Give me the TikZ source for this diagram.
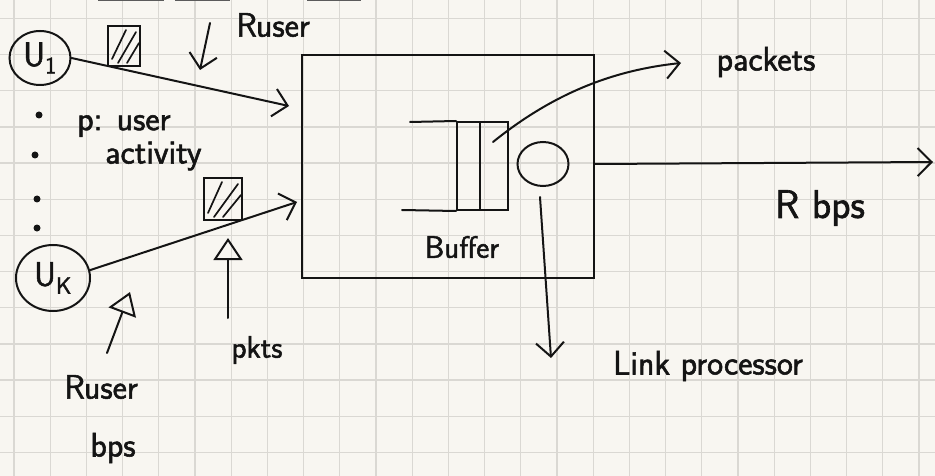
\documentclass[tikz,border=0pt]{standalone}
\usepackage{fontspec}
\newfontfamily\handfont{Latin Modern Sans}[FakeBold=1.6]
\usetikzlibrary{arrows.meta,shapes.geometric}
\definecolor{paper}{HTML}{F8F6F1}
\definecolor{gridc}{HTML}{DAD8D3}
\definecolor{inkc}{HTML}{141414}
\begin{document}
\begin{tikzpicture}[x=1pt,y=-1pt,
  ink/.style={draw=inkc, line width=2pt, line cap=round, line join=round},
  barb/.style={-{Straight Barb[length=14pt,width=28pt,line width=2pt]}},
  tri/.style={-{Triangle[open,length=22pt,width=29pt,line width=2pt]}},
  lbl/.style={font=\handfont\fontsize{34}{40}\selectfont, inner sep=0pt, text=inkc},
  lblsmall/.style={font=\handfont\fontsize{31}{36}\selectfont, inner sep=0pt, text=inkc},
  userbox/.style={ellipse, draw=inkc, line width=2pt, inner sep=0pt, text=inkc,
    font=\handfont\fontsize{34}{40}\selectfont},
  hatchbox/.style={rectangle, draw=inkc, line width=2pt, inner sep=0pt,
    path picture={
      \draw[inkc, line width=1.7pt, line cap=round]
        ([xshift=4pt,yshift=7pt]path picture bounding box.south west) --
        ([xshift=18pt,yshift=-4pt]path picture bounding box.north west);
      \draw[inkc, line width=1.7pt, line cap=round]
        ([xshift=10pt,yshift=3pt]path picture bounding box.south west) --
        ([xshift=-4pt,yshift=-6pt]path picture bounding box.north east);
      \draw[inkc, line width=1.7pt, line cap=round]
        ([xshift=19pt,yshift=3pt]path picture bounding box.south west) --
        ([xshift=-1pt,yshift=-17pt]path picture bounding box.north east);
    }},
  cell/.style={rectangle, draw=inkc, line width=2pt, inner sep=0pt, minimum height=88pt},
  dot/.style={circle, fill=inkc, inner sep=0pt, minimum size=7pt}
]
% paper and grid
\fill[paper] (0,0) rectangle (935,476);
\useasboundingbox (0,0) rectangle (935,476);
\foreach \i in {0,...,25} \draw[gridc, line width=1.3pt] ({14+36.2*\i},0) -- ({14+36.2*\i},476);
\foreach \j in {0,...,12} \draw[gridc, line width=1.3pt] (0,{18.5+36.15*\j}) -- (935,{18.5+36.15*\j});
% cut-off strokes at the top edge
\draw[inkc!70, line width=1.2pt] (98,0.3) -- (164,0.3);
\draw[inkc!70, line width=1.2pt] (175,0.3) -- (230,0.3);
\draw[inkc!70, line width=1.2pt] (307,0.3) -- (361,0.3);

% users
\node[userbox, minimum width=61pt, minimum height=54pt] (u1) at (40,58) {U\textsubscript{1}};
\node[userbox, minimum width=74pt, minimum height=66pt] (uk) at (53,278) {U\textsubscript{K}};
\node[dot] (d1) at (39,115) {};
\node[dot] (d2) at (35,155) {};
\node[dot] (d3) at (37,199) {};
\node[dot] (d4) at (37,228) {};

% packets in flight
\node[hatchbox, minimum width=32pt, minimum height=40pt] (pk1) at (124,46) {};
\node[hatchbox, minimum width=38pt, minimum height=42pt] (pk2) at (223,199) {};

% main box
\node[draw=inkc, line width=2pt, minimum width=292pt, minimum height=223pt, inner sep=0pt] (box) at (448,166.5) {};

% buffer
\node[cell, minimum width=23pt] (cellA) at (468.5,166) {};
\node[cell, minimum width=28pt] (cellB) at (494,166) {};
\coordinate (qtl) at (410,122);
\coordinate (qbl) at (402,210);
\draw[ink] (qtl) -- (cellA.north west);
\draw[ink] (qbl) -- (cellA.south west);
\node[lblsmall] (buf) at (462,247) {Buffer};

% server
\node[ellipse, draw=inkc, line width=2pt, minimum width=51pt, minimum height=44pt, inner sep=0pt] (srv) at (543,164) {};

% inputs
\coordinate (in1) at (289,106);
\coordinate (in2) at (297,202);
\draw[ink, barb] (u1.east) -- (in1);
\draw[ink, barb] (uk.12) -- (in2);

% labels
\node[lbl] (rtop) at (273,25) {Ruser};
\coordinate (ra1) at (210,23);
\coordinate (ra2) at (200,70);
\draw[ink, barb] (ra1) -- (ra2);

\node[lbl, anchor=west] (puser) at (77,126) {p: user};
\node[lbl, anchor=west] (pact) at (105,156) {activity};

\node[lbl] (rb1) at (101,387) {Ruser};
\node[lbl] (rb2) at (113,448) {bps};
\coordinate (rbs) at (107,353);
\coordinate (rbe) at (130,292);
\draw[ink, tri] (rbs) -- (rbe);

\node[lblsmall] (pkts) at (257,350) {pkts};
\coordinate (pks) at (228,318);
\coordinate (pke) at (228,238);
\draw[ink, tri] (pks) -- (pke);

% packets label
\node[lbl] (pk) at (766,62) {packets};
\coordinate (pkstart) at (493,142);
\coordinate (pkend) at (681,63);
\draw[ink, barb] (pkstart) .. controls (555,92) and (615,70) .. (pkend);

% output link
\coordinate (out) at (933,162);
\draw[ink, barb] (box.east |- srv.east) -- (out);
\node[font=\handfont\fontsize{40}{46}\selectfont, inner sep=0pt, text=inkc] (rbps) at (820,208) {R bps};

% link processor
\coordinate (lps) at (540,197);
\coordinate (lpe) at (551,358);
\draw[ink, barb] (lps) -- (lpe);
\node[lbl] (lp) at (708,366) {Link processor};
\end{tikzpicture}
\end{document}
